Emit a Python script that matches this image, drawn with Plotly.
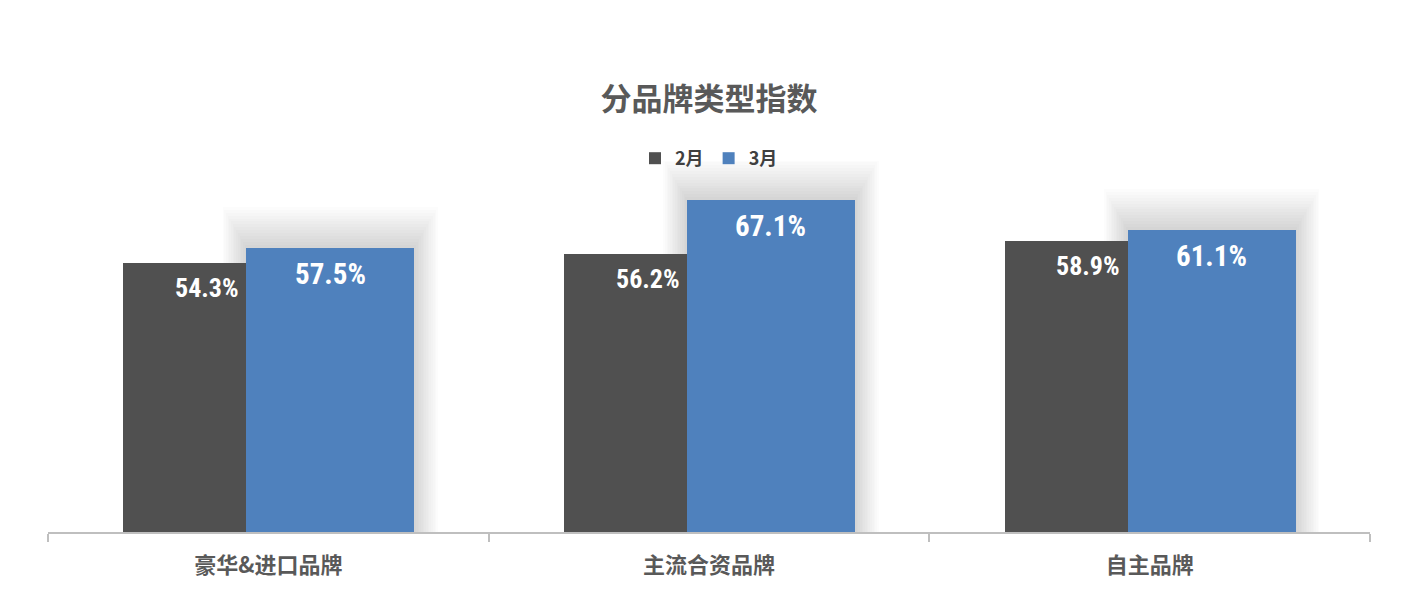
import plotly.graph_objects as go

categories = ["豪华&进口品牌", "主流合资品牌", "自主品牌"]
feb = [54.3, 56.2, 58.9]
mar = [57.5, 67.1, 61.1]
series_names = ["2月", "3月"]
title_text = "分品牌类型指数"

GRAY = "#505050"
BLUE = "#4F81BD"
CJK = "Noto Sans CJK SC"
NUM = ("Roboto Condensed, Open Sans Condensed, Noto Sans Condensed, "
       "Liberation Sans Narrow, DejaVu Sans Condensed, sans-serif")

PX_X = 440.67   # pixels per category unit
PX_Y = 4.948    # pixels per percent

fig = go.Figure()

# soft shadow behind the 3月 bars (stronger above, faint at the sides)
n_layers = 14
for k in range(n_layers, 0, -1):
    side = k * 1.7
    top = k * 2.9
    fig.add_trace(go.Bar(
        x=categories, y=[v + top / PX_Y for v in mar],
        offset=-0.05 - side / PX_X, width=0.381 + 2 * side / PX_X,
        marker=dict(color="rgba(0,0,0,0.011)", line=dict(width=0)),
        showlegend=False, hoverinfo="skip",
    ))

fig.add_trace(go.Bar(
    x=categories, y=feb, name=series_names[0],
    offset=-0.329, width=0.279,
    marker=dict(color=GRAY, line=dict(width=0)),
))
fig.add_trace(go.Bar(
    x=categories, y=mar, name=series_names[1],
    offset=-0.05, width=0.381,
    marker=dict(color=BLUE, line=dict(width=0)),
))

for i, v in enumerate(feb):
    fig.add_annotation(x=i - 0.139, y=v, yshift=-25, text=f"<b>{v:.1f}%</b>",
                       showarrow=False, xanchor="center", yanchor="middle",
                       font=dict(family=NUM, size=26, color="white"))
for i, v in enumerate(mar):
    fig.add_annotation(x=i + 0.14, y=v, yshift=-26, text=f"<b>{v:.1f}%</b>",
                       showarrow=False, xanchor="center", yanchor="middle",
                       font=dict(family=NUM, size=29, color="white"))

fig.update_layout(
    width=1418, height=590,
    margin=dict(l=48, r=48, t=161, b=58, autoexpand=False),
    paper_bgcolor="white", plot_bgcolor="white",
    barmode="overlay", bargap=0,
    title=dict(text=f"<b>{title_text}</b>", x=0.5, xanchor="center",
               y=1 - 99 / 590, yanchor="middle",
               font=dict(family=CJK, size=31, color="#595959")),
    legend=dict(orientation="h", x=0.5, xanchor="center", y=1 - 140 / 590,
                yref="container", yanchor="top", bgcolor="rgba(0,0,0,0)",
                font=dict(family=CJK, size=18, color="#404040", weight="bold"),
                itemwidth=30, traceorder="normal"),
    xaxis=dict(type="category", range=[-0.5, 2.5], showline=True, automargin=False,
               linecolor="#BFBFBF", linewidth=2, ticks="outside",
               tickson="boundaries", ticklen=8, tickcolor="#BFBFBF", tickwidth=2,
               ticklabelstandoff=13, showgrid=False, zeroline=False,
               tickfont=dict(family=CJK, size=22, color="#595959", weight="bold")),
    yaxis=dict(range=[0, 75], visible=False, showgrid=False, zeroline=False,
               automargin=False),
    showlegend=True,
)

fig.write_html("out.html", config={"displayModeBar": False},
               post_script="document.body.style.margin='0';")
